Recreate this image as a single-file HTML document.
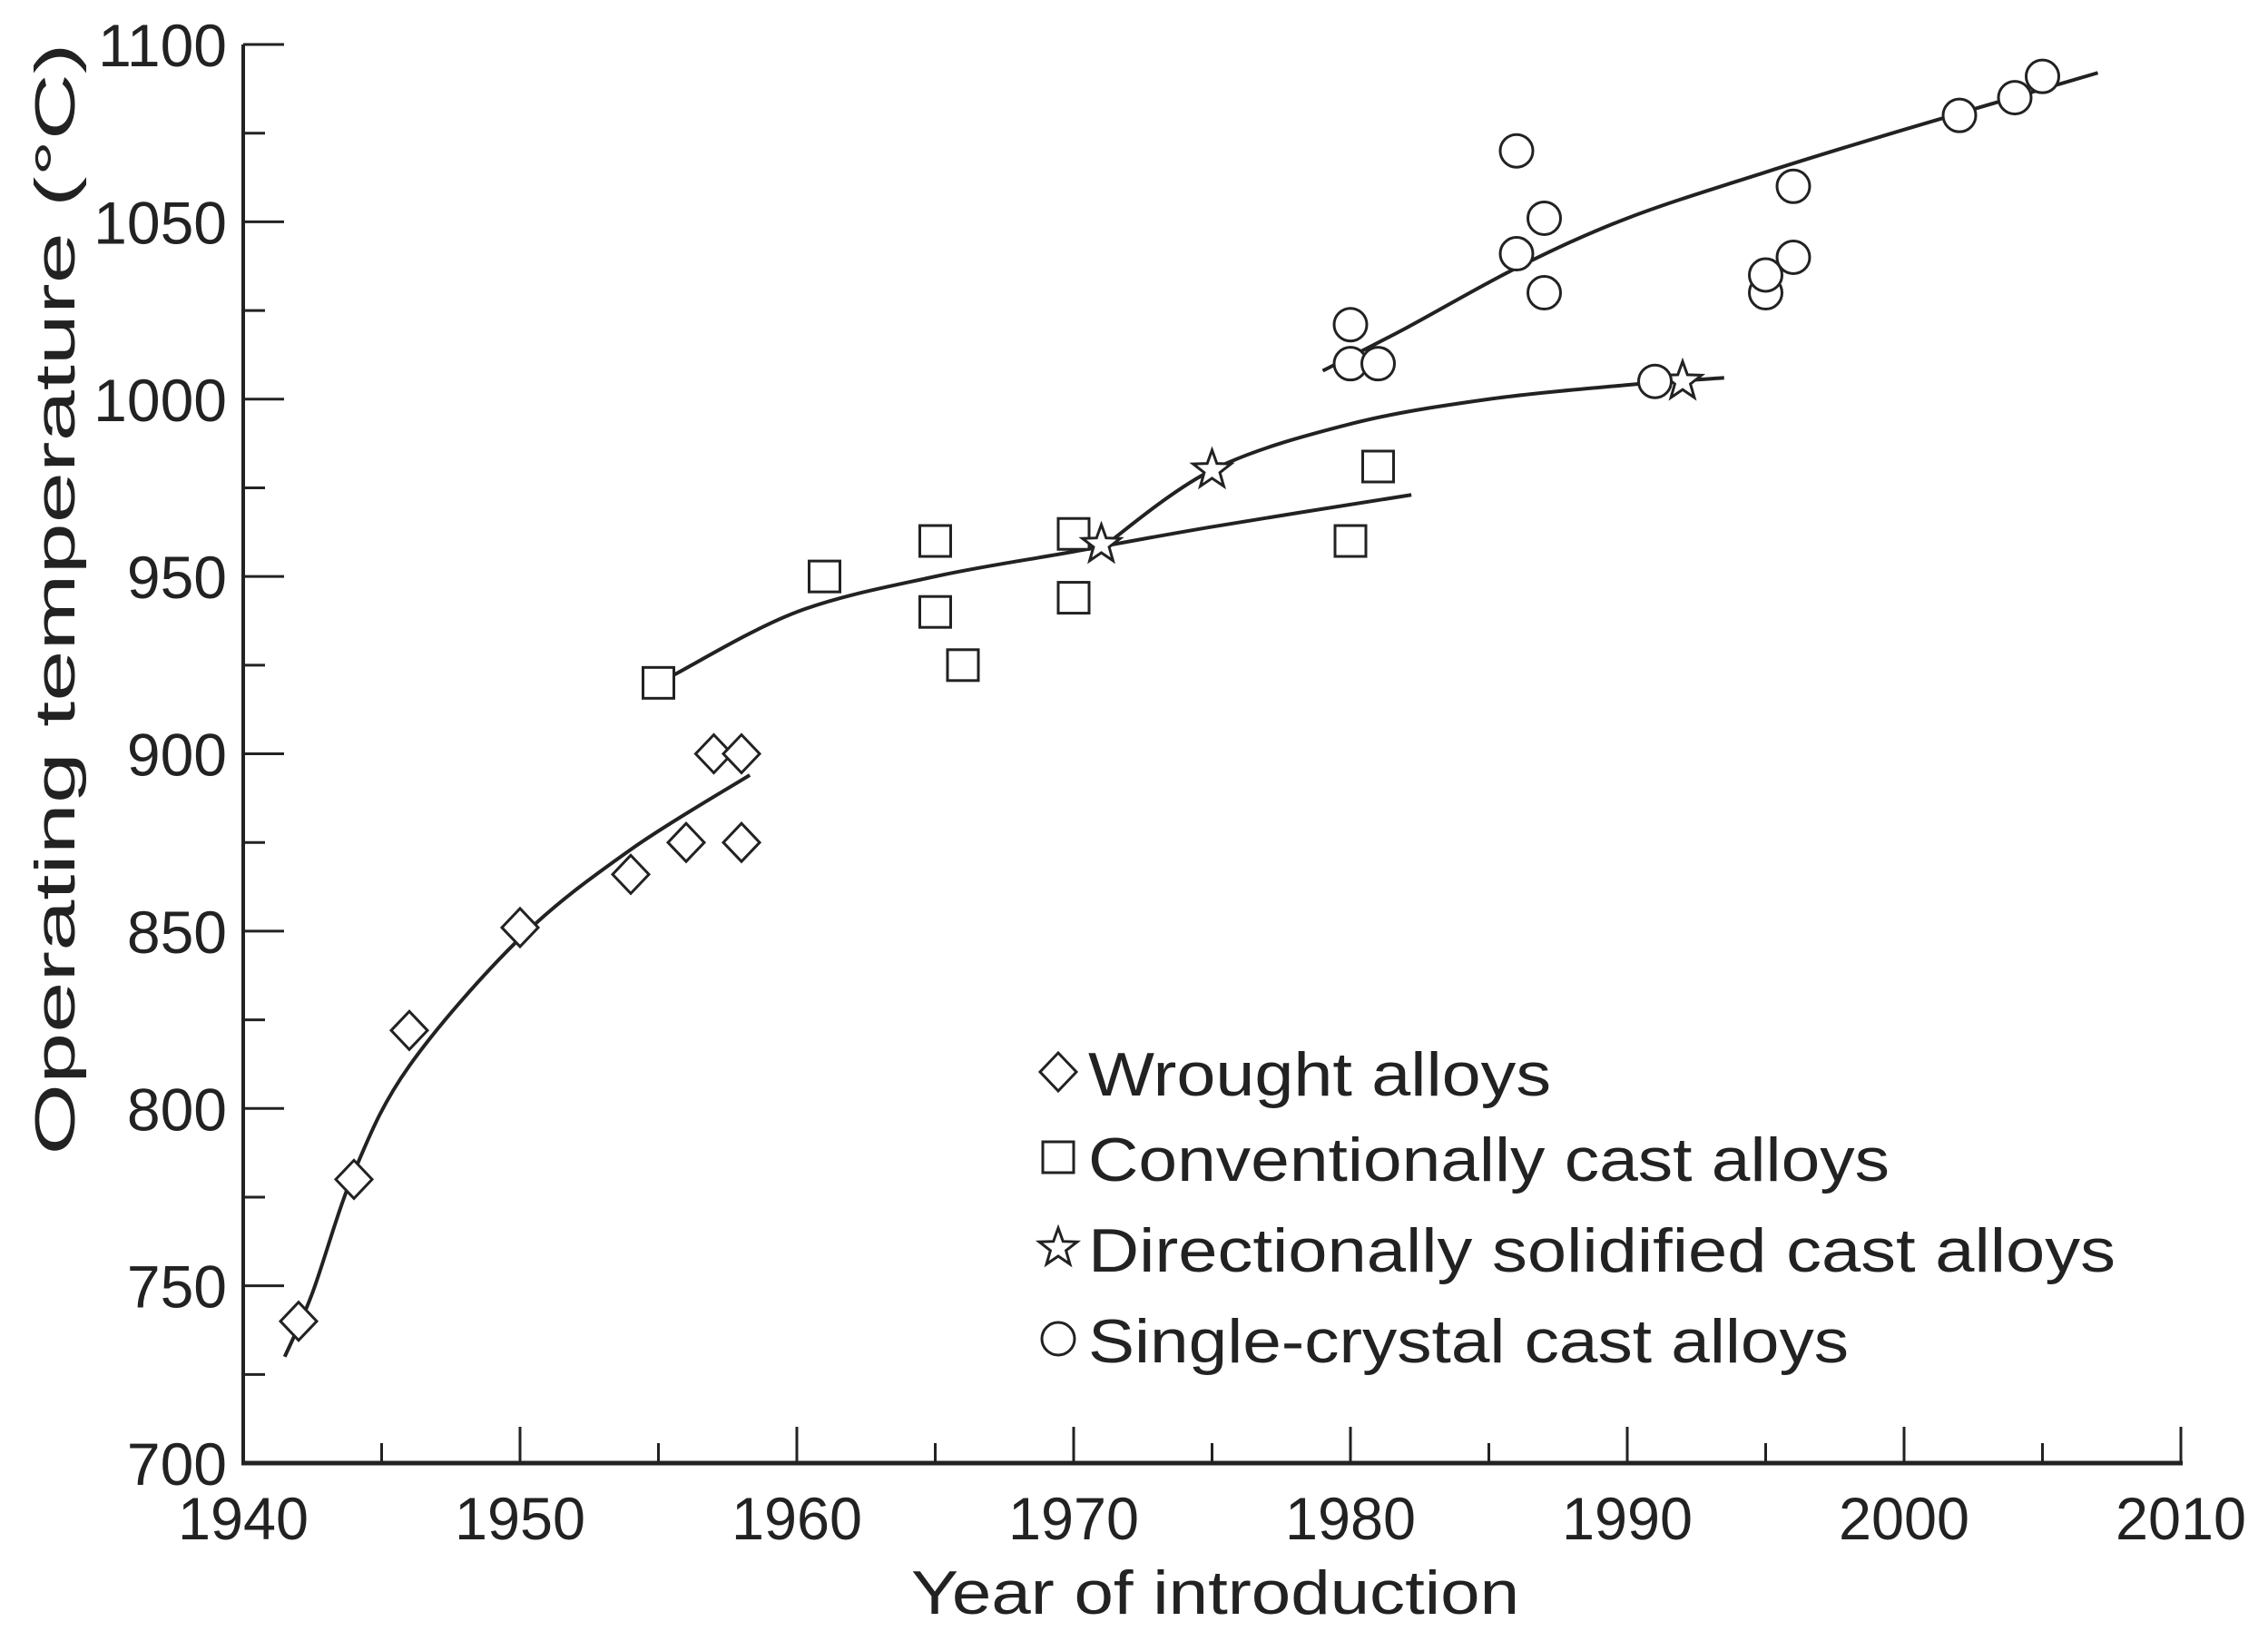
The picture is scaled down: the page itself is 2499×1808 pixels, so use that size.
<!DOCTYPE html>
<html><head><meta charset="utf-8"><style>
html,body{margin:0;padding:0;background:#fff;}
svg{display:block;font-family:"Liberation Sans",sans-serif;}
</style></head><body>
<svg id="chart" width="2499" height="1808" viewBox="0 0 2499 1808" xmlns="http://www.w3.org/2000/svg">
<g id="axes"></g>
<g id="curves"></g>
<g id="marks"></g>
<g id="legend"></g>
<text x="1339" y="1778" font-size="68" text-anchor="middle" fill="#222" textLength="670" lengthAdjust="spacingAndGlyphs">Year of introduction</text>
<text transform="translate(82,660) rotate(-90)" font-size="62" text-anchor="middle" fill="#222" textLength="1225" lengthAdjust="spacingAndGlyphs">Operating temperature (°C)</text>
</svg>
<script>
const xTicks = [1940,1950,1960,1970,1980,1990,2000,2010];
const yTicks = [700,750,800,850,900,950,1000,1050,1100];
const wroughtX = [1942,1944,1946,1950,1954,1956,1957,1958,1958];
const wroughtY = [740,780,822,851,866,875,900,900,875];
const convX = [1955,1961,1965,1965,1966,1970,1970,1980,1981];
const convY = [920,950,960,940,925,962,944,960,981];
const dsX = [1971,1975,1992];
const dsY = [959,980,1005];
const scX = [1980,1980,1981,1986,1986,1987,1987,1991,1995,1995,1996,1996,2002,2004,2005];
const scY = [1021,1010,1010,1070,1041,1051,1030,1005,1030,1035,1060,1040,1080,1085,1091];
const wroughtCurveX = [1941.5,1942.5,1944,1946,1950,1954,1958.3];
const wroughtCurveY = [730,748,782,812,848,873,894];
const convCurveX = [1955.5,1960,1965,1970,1975,1982.2];
const convCurveY = [922,940,950,957,964,973];
const dsCurveX = [1971,1975,1980,1985,1990,1993.5];
const dsCurveY = [958,980,993,1000,1004,1006];
const scCurveX = [1979,1982,1986,1990,1995,2000,2007];
const scCurveY = [1008,1020,1037,1051,1064,1076,1092];

const NS = "http://www.w3.org/2000/svg";
const X0 = 268, X1 = 2403, Y0 = 1612, Y1 = 49;
const xs = v => X0 + (v - 1940) / 70 * (X1 - X0);
const ys = v => Y0 - (v - 700) / 400 * (Y0 - Y1);
function mk(tag, attrs, parent){const e=document.createElementNS(NS,tag);for(const k in attrs)e.setAttribute(k,attrs[k]);parent.appendChild(e);return e;}
const axes=document.getElementById('axes');
let e;
e=mk('line',{x1:X0,y1:Y1,x2:X0,y2:Y0+2,stroke:'#222','stroke-width':4},axes);


e=mk('line',{x1:X0-2,y1:Y0,x2:X1+2,y2:Y0,stroke:'#222','stroke-width':5},axes);


xTicks.forEach((t,i)=>{
  const x=xs(t);
  e=mk('line',{x1:x,y1:Y0,x2:x,y2:Y0-40,stroke:'#222','stroke-width':3},axes);
  
  
  if(i<xTicks.length-1){const xm=xs(t+5);
    e=mk('line',{x1:xm,y1:Y0,x2:xm,y2:Y0-22,stroke:'#222','stroke-width':3},axes);
    
    }
  e=mk('text',{x:x,y:1696,'font-size':66,'text-anchor':'middle',fill:'#222',textLength:144,lengthAdjust:'spacingAndGlyphs'},axes);
  e.textContent=t;
  
  
});
yTicks.forEach((t,i)=>{
  const y=ys(t);
  e=mk('line',{x1:X0,y1:y,x2:X0+45,y2:y,stroke:'#222','stroke-width':3},axes);
  
  
  if(i<yTicks.length-1){const ym=ys(t+25);
    e=mk('line',{x1:X0,y1:ym,x2:X0+24,y2:ym,stroke:'#222','stroke-width':3},axes);
    
    }
  e=mk('text',{x:250,y:y+24,'font-size':66,'text-anchor':'end',fill:'#222'},axes);
  e.textContent=t;
  
  
});
function smooth(px,py){
  const P=px.map((v,i)=>[xs(v),ys(py[i])]);
  let d='M'+P[0][0]+','+P[0][1];
  for(let i=0;i<P.length-1;i++){
    const p0=P[Math.max(0,i-1)],p1=P[i],p2=P[i+1],p3=P[Math.min(P.length-1,i+2)];
    const c1=[p1[0]+(p2[0]-p0[0])/6,p1[1]+(p2[1]-p0[1])/6];
    const c2=[p2[0]-(p3[0]-p1[0])/6,p2[1]-(p3[1]-p1[1])/6];
    d+=' C'+c1+' '+c2+' '+p2;
  }
  return d;
}
const curves=document.getElementById('curves');
[[wroughtCurveX,wroughtCurveY,'wrought-curve'],[convCurveX,convCurveY,'conventional-curve'],[dsCurveX,dsCurveY,'directional-curve'],[scCurveX,scCurveY,'single-crystal-curve']].forEach(c=>{
  e=mk('path',{d:smooth(c[0],c[1]),fill:'none',stroke:'#222','stroke-width':4},curves);
  
  
});
function marker(type,cx,cy,parent){
  let el;
  if(type==='d') el=mk('polygon',{points:`${cx},${cy-21} ${cx+20},${cy} ${cx},${cy+21} ${cx-20},${cy}`},parent);
  else if(type==='s') el=mk('rect',{x:cx-17,y:cy-17,width:34,height:34},parent);
  else if(type==='c') el=mk('circle',{cx:cx,cy:cy,r:18},parent);
  else {let pts=[];for(let k=0;k<10;k++){const r=k%2?9:22,a=-Math.PI/2+k*Math.PI/5;pts.push((cx+r*Math.cos(a)).toFixed(1)+','+(cy+r*Math.sin(a)).toFixed(1));}
    el=mk('polygon',{points:pts.join(' ')},parent);}
  el.setAttribute('fill','#fff');el.setAttribute('stroke','#222');el.setAttribute('stroke-width',3);
  return el;
}
const marks=document.getElementById('marks');
[[wroughtX,wroughtY,'d','wrought-point'],[convX,convY,'s','conventional-point'],[dsX,dsY,'t','directional-point'],[scX,scY,'c','single-crystal-point']].forEach(s=>{
  s[0].forEach((v,i)=>{
    e=marker(s[2],xs(v),ys(s[1][i]),marks);
    
    
  });
});
const legend=document.getElementById('legend');
const legLabels=['Wrought alloys','Conventionally cast alloys','Directionally solidified cast alloys','Single-crystal cast alloys'];
const legTypes=['d','s','t','c'];
const legY=[1183,1277,1377,1477];
const legW=[510,883,1132,838];
legLabels.forEach((l,i)=>{
  e=marker(legTypes[i],1166,legY[i]-2,legend);
  
  
  e=mk('text',{x:1199,y:legY[i]+24,'font-size':68,fill:'#222',textLength:legW[i],lengthAdjust:'spacingAndGlyphs'},legend);
  e.textContent=l;
  
  
});
</script>
</body></html>
